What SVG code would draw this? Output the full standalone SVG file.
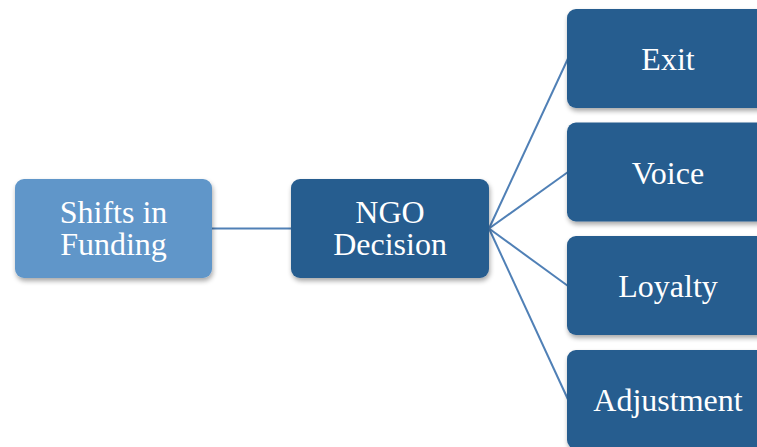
<svg xmlns="http://www.w3.org/2000/svg" width="757" height="447" viewBox="0 0 757 447">
<defs>
<filter id="sh" x="-10%" y="-10%" width="125%" height="130%">
<feGaussianBlur in="SourceAlpha" stdDeviation="2.5"/>
<feOffset dx="1" dy="3" result="b"/>
<feComponentTransfer><feFuncA type="linear" slope="0.35"/></feComponentTransfer>
<feMerge><feMergeNode/><feMergeNode in="SourceGraphic"/></feMerge>
</filter>
<style>
.light{fill:#6096c9;filter:url(#sh)}
.dark{fill:#285d8f;filter:url(#sh)}
.t{font-family:"Liberation Serif","Times New Roman",serif;font-size:32px;fill:#ffffff;text-anchor:middle}
.c{stroke:#5080b6;stroke-width:2;fill:none}
</style>
</defs>
<rect width="757" height="447" fill="#ffffff"/>
<g id="connectors">
<line class="c" x1="212" y1="228.5" x2="292" y2="228.5"/>
<line class="c" x1="489" y1="228.5" x2="568" y2="58.5"/>
<line class="c" x1="489" y1="228.5" x2="568" y2="172"/>
<line class="c" x1="489" y1="228.5" x2="568" y2="286"/>
<line class="c" x1="489" y1="228.5" x2="568" y2="399.5"/>
</g>
<g id="shifts">
<rect class="light" x="15" y="179" width="197" height="99" rx="9"/>
<text class="t" x="113.5" y="223">Shifts in</text>
<text class="t" x="113.5" y="255">Funding</text>
</g>
<g id="ngo">
<rect class="dark" x="291" y="179" width="198" height="99" rx="9"/>
<text class="t" x="390" y="223">NGO</text>
<text class="t" x="390" y="255">Decision</text>
</g>
<g id="exit">
<rect class="dark" x="567" y="9" width="202" height="99" rx="9"/>
<text class="t" x="668" y="70">Exit</text>
</g>
<g id="voice">
<rect class="dark" x="567" y="122.5" width="202" height="99" rx="9"/>
<text class="t" x="668" y="183.5">Voice</text>
</g>
<g id="loyalty">
<rect class="dark" x="567" y="236" width="202" height="99" rx="9"/>
<text class="t" x="668" y="297">Loyalty</text>
</g>
<g id="adjustment">
<rect class="dark" x="567" y="350" width="202" height="99" rx="9"/>
<text class="t" x="668" y="411">Adjustment</text>
</g>
</svg>
